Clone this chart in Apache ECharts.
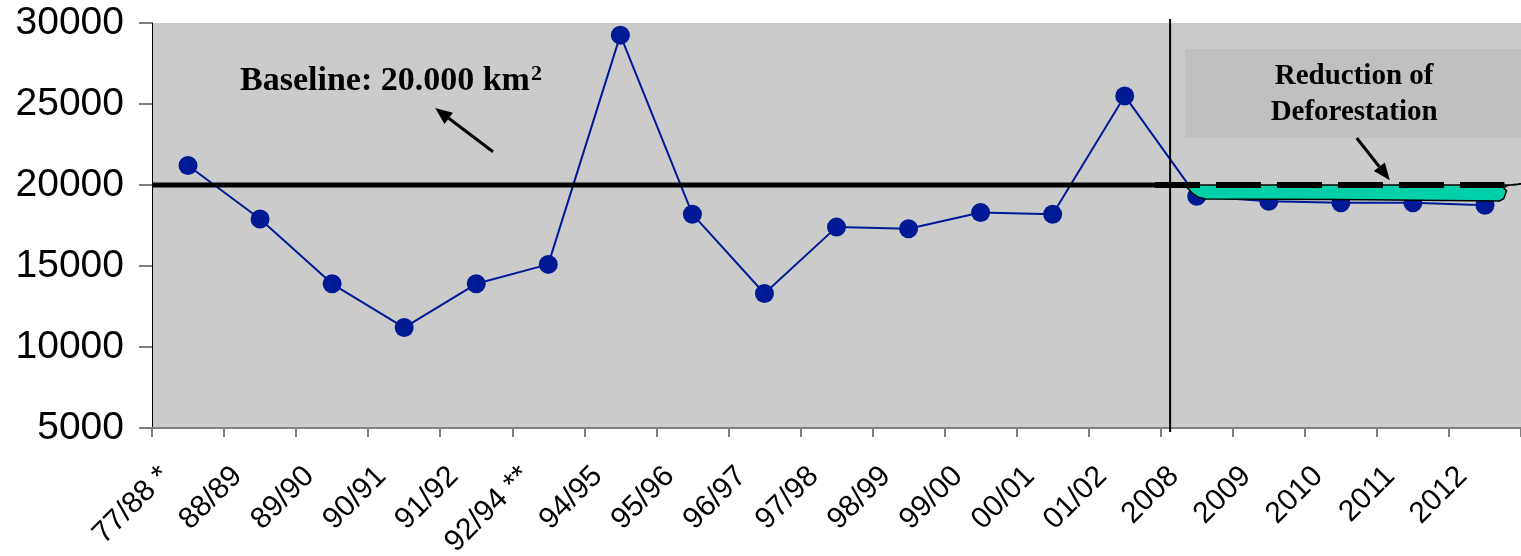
<!DOCTYPE html>
<html>
<head>
<meta charset="utf-8">
<script src="https://cdn.jsdelivr.net/npm/echarts@6/dist/echarts.min.js"></script>
<style>
  html, body { margin: 0; padding: 0; background: #fff; }
  #chart { width: 1521px; height: 556px; }
</style>
</head>
<body>
<div id="chart"></div>
<script>
// Annual deforestation (km²) by period, with the 2008–2012 projection
const categories = ['77/88 *', '88/89', '89/90', '90/91', '91/92', '92/94 **', '94/95', '95/96',
  '96/97', '97/98', '98/99', '99/00', '00/01', '01/02', '2008', '2009', '2010', '2011', '2012'];
const deforestation = [21200, 17900, 13900, 11200, 13900, 15100, 29250, 18200,
  13300, 17400, 17300, 18300, 18200, 25500, 19300, 19000, 18900, 18900, 18750];
const yTicks = [5000, 10000, 15000, 20000, 25000, 30000];
const baseline = 20000;
const baselineLabel = 'Baseline: 20.000 km';
const reductionLabel = ['Reduction of', 'Deforestation'];

const NAVY = '#001a96';
const chart = echarts.init(document.getElementById('chart'), null, { renderer: 'canvas' });

chart.setOption({
  animation: false,
  grid: {
    left: 152, right: 0, top: 23, bottom: 128, show: true, backgroundColor: '#cbcbcb', borderWidth: 0,
    containLabel: false, outerBoundsMode: 'none'
  },
  xAxis: [{
    type: 'category',
    data: categories,
    boundaryGap: true,
    axisLine: { lineStyle: { color: '#7f7f7f', width: 2 } },
    axisTick: { show: true, length: 9, lineStyle: { color: '#7f7f7f', width: 2 } },
    axisLabel: {
      interval: 0, rotate: 45, margin: 21, padding: [0, 32, 0, 0],
      fontSize: 30, fontFamily: 'Liberation Sans, Arial, sans-serif', color: '#000'
    }
  }, {
    // continuous helper axis over the same span, used to place annotations
    type: 'value', min: 0, max: categories.length, show: false
  }],
  yAxis: {
    type: 'value',
    min: yTicks[0], max: yTicks[yTicks.length - 1], interval: yTicks[1] - yTicks[0],
    splitLine: { show: false },
    axisLine: { show: true, lineStyle: { color: '#000', width: 1 } },
    axisTick: { show: true, length: 13, lineStyle: { color: '#7f7f7f', width: 2 } },
    axisLabel: {
      fontSize: 39, margin: 28, color: '#000', fontFamily: 'Liberation Sans, Arial, sans-serif',
      formatter: v => String(v)
    }
  },
  series: [{
    type: 'line',
    xAxisIndex: 0,
    data: deforestation,
    symbol: 'circle',
    symbolSize: 19,
    itemStyle: { color: NAVY },
    lineStyle: { color: NAVY, width: 2 },
    z: 3
  }]
});

// helpers for annotations: position on the continuous x axis, value on y axis
function px(x, y) {
  return chart.convertToPixel({ xAxisIndex: 1, yAxisIndex: 0 }, [x, y]);
}
function arrow(from, to, z) {
  const a = px(from[0], from[1]), b = px(to[0], to[1]);
  const dx = b[0] - a[0], dy = b[1] - a[1];
  const len = Math.sqrt(dx * dx + dy * dy);
  const ux = dx / len, uy = dy / len;
  const hl = 17, hw = 7;
  const base = [b[0] - ux * hl, b[1] - uy * hl];
  return [{
    type: 'line', z: z, silent: true,
    shape: { x1: a[0], y1: a[1], x2: base[0], y2: base[1] },
    style: { stroke: '#000', lineWidth: 3 }
  }, {
    type: 'polygon', z: z, silent: true,
    shape: { points: [b, [base[0] - uy * hw, base[1] + ux * hw], [base[0] + uy * hw, base[1] - ux * hw]] },
    style: { fill: '#000' }
  }];
}

const nCat = categories.length;
const splitX = 14.13;          // divider between observed periods and projection
const bl0 = px(0, baseline), bl1 = px(13.99, baseline);
const dash0 = px(13.92, baseline), dash1 = px(18.77, baseline);
const vTop = px(splitX, 30250), vBot = px(splitX, 4750);

// projected reduction zone under the baseline
const zone = [
  [14.32, 20000], [14.38, 19780], [14.45, 19450], [14.52, 19250], [14.62, 19130],
  [16.5, 19100], [18.7, 19020], [18.76, 19150], [18.78, 19400], [18.8, 19650],
  [18.76, 19800], [18.8, 19950], [18.9, 20030], [19, 20060], [18.9, 20000]
].map(p => px(p[0], p[1]));

const boxTL = px(14.34, 28400), boxBR = px(nCat, 22900);
const boxCx = (boxTL[0] + boxBR[0]) / 2 + 1;
const serif = '"Liberation Serif", "Times New Roman", serif';

const graphics = [
  // shaded label box
  { type: 'rect', z: 1, silent: true,
    shape: { x: boxTL[0], y: boxTL[1], width: boxBR[0] - boxTL[0], height: boxBR[1] - boxTL[1] },
    style: { fill: '#bfc0bf' } },
  // divider line
  { type: 'line', z: 10, silent: true,
    shape: { x1: vTop[0], y1: vTop[1], x2: vBot[0], y2: vBot[1] },
    style: { stroke: '#000', lineWidth: 2 } },
  // baseline (observed part)
  { type: 'line', z: 10, silent: true,
    shape: { x1: bl0[0], y1: bl0[1], x2: bl1[0], y2: bl1[1] },
    style: { stroke: '#000', lineWidth: 5 } },
  // reduction zone
  { type: 'polygon', z: 11, silent: true,
    shape: { points: zone },
    style: { fill: '#00d0aa', stroke: '#000', lineWidth: 1.5 } },
  // baseline (projection part, dashed)
  { type: 'line', z: 12, silent: true,
    shape: { x1: dash0[0], y1: dash0[1], x2: dash1[0], y2: dash1[1] },
    style: { stroke: '#000', lineWidth: 6, lineDash: [45, 16] } },
  { type: 'text', z: 12, silent: true,
    style: {
      x: 240, y: 81, text: baselineLabel + '{sup|2}', fill: '#000',
      font: 'bold 34px ' + serif, textVerticalAlign: 'middle',
      rich: { sup: { fontSize: 22, fontWeight: 'bold', fontFamily: serif, verticalAlign: 'top', padding: [0, 0, 14, 1] } }
    } },
  { type: 'text', z: 12, silent: true,
    style: { x: boxCx, y: 77, text: reductionLabel[0], fill: '#000', textAlign: 'center',
      font: 'bold 29px ' + serif, textVerticalAlign: 'middle' } },
  { type: 'text', z: 12, silent: true,
    style: { x: boxCx, y: 113, text: reductionLabel[1], fill: '#000', textAlign: 'center',
      font: 'bold 29px ' + serif, textVerticalAlign: 'middle' } }
].concat(
  arrow([4.733, 22050], [3.93, 24750], 12),
  arrow([16.72, 22900], [17.18, 20300], 12)
);

chart.setOption({ graphic: graphics });
</script>
</body>
</html>
